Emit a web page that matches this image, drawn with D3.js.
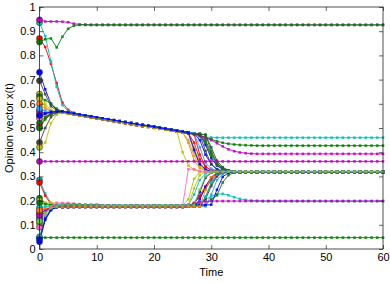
<!DOCTYPE html>
<html>
<head>
<meta charset="utf-8">
<script src="https://cdn.jsdelivr.net/npm/d3@7"></script>
<style>
  body { margin: 0; background: #fff; }
  text { font-family: "Liberation Sans", Arial, Helvetica, sans-serif; }
</style>
</head>
<body>
<svg id="chart"></svg>
<script>
// ---- data ----
var nSteps = 60;
var xTicks = [0, 10, 20, 30, 40, 50, 60];
var yTicks = [0, 0.1, 0.2, 0.3, 0.4, 0.5, 0.6, 0.7, 0.8, 0.9, 1];

// shared cluster trajectories, first value is at t = 4
var upperHi = [0.568, 0.564, 0.560, 0.556, 0.552, 0.548, 0.544, 0.540, 0.536, 0.532,
  0.528, 0.524, 0.520, 0.516, 0.512, 0.509, 0.505, 0.501, 0.497, 0.493,
  0.489, 0.485, 0.482, 0.478, 0.475, 0.472, 0.469, 0.466, 0.463];
var upperLo = [0.564, 0.560, 0.556, 0.552, 0.548, 0.544, 0.540, 0.536, 0.532, 0.528,
  0.524, 0.520, 0.516, 0.512, 0.508, 0.505, 0.501, 0.497, 0.493, 0.489,
  0.485, 0.481, 0.478, 0.474, 0.471, 0.468, 0.465, 0.462, 0.459];
var lowerHi = [0.183, 0.183, 0.182, 0.182, 0.181, 0.181, 0.181, 0.180, 0.180, 0.180,
  0.180, 0.180, 0.180, 0.180, 0.180, 0.180, 0.180, 0.180, 0.180, 0.180,
  0.180, 0.180, 0.181, 0.181, 0.182, 0.182, 0.183, 0.183, 0.184, 0.184, 0.185];
var lowerLo = [0.173, 0.173, 0.174, 0.174, 0.174, 0.174, 0.174, 0.174, 0.174, 0.174,
  0.174, 0.174, 0.174, 0.174, 0.174, 0.174, 0.174, 0.174, 0.174, 0.174,
  0.174, 0.174, 0.175, 0.175, 0.176, 0.176, 0.177, 0.177, 0.178, 0.178, 0.179];

// one entry per agent
var agentColors = [
  "#ff0000", "#00bfbf", "#0000ff", "#404040", "#bfbf00", "#008000", "#bfbf00", "#ff7f00",
  "#0000ff", "#bf00bf", "#404040", "#ff66cc", "#008000", "#ff0000", "#008000", "#3399ff",
  "#404040", "#bfbf00", "#0000ff",
  "#bf00bf", "#008000", "#bf00bf", "#008000",
  "#00bfbf", "#ff0000", "#008000", "#bfbf00", "#008000", "#00bfbf", "#ff0000", "#404040",
  "#0000ff", "#3399ff", "#bfbf00", "#ff66cc", "#bf00bf", "#00bfbf", "#0000ff", "#0000ff",
  "#ff7f00", "#66cc33"
];
var agentHeads = [
  [0.870, 0.835, 0.765, 0.685, 0.605, 0.575, 0.563],
  [0.935, 0.880, 0.775, 0.670, 0.595, 0.570, 0.560],
  [0.730, 0.660, 0.600, 0.575, 0.568],
  [0.695, 0.640, 0.590, 0.572, 0.567],
  [0.640, 0.600, 0.575, 0.567, 0.565],
  [0.630, 0.615, 0.600, 0.580, 0.568],
  [0.620, 0.590, 0.570, 0.566, 0.565],
  [0.600, 0.580, 0.570, 0.567, 0.566],
  [0.570, 0.560, 0.565, 0.568, 0.568],
  [0.560, 0.545, 0.555, 0.565, 0.567],
  [0.550, 0.560, 0.565, 0.567, 0.567],
  [0.540, 0.550, 0.560, 0.565, 0.566],
  [0.520, 0.545, 0.560, 0.566, 0.566],
  [0.505, 0.540, 0.558, 0.565, 0.566],
  [0.500, 0.535, 0.556, 0.564, 0.566],
  [0.580, 0.570, 0.568, 0.567, 0.566],
  [0.440, 0.500, 0.545, 0.560, 0.565],
  [0.420, 0.440, 0.520, 0.555, 0.564],
  [0.552, 0.560, 0.566, 0.568, 0.568],
  [0.947, 0.940, 0.940, 0.940, 0.939, 0.937, 0.931, 0.928, 0.927, 0.926],
  [0.855, 0.867, 0.870, 0.833, 0.877, 0.910, 0.923, 0.926],
  [0.362],
  [0.047],
  [0.285, 0.230, 0.190, 0.183, 0.182],
  [0.275, 0.220, 0.185, 0.176, 0.173],
  [0.210, 0.190, 0.182, 0.180, 0.180],
  [0.200, 0.190, 0.190, 0.190, 0.189, 0.186, 0.182],
  [0.190, 0.185, 0.180, 0.177, 0.174],
  [0.170, 0.175, 0.178, 0.180, 0.181],
  [0.155, 0.165, 0.170, 0.172, 0.173],
  [0.145, 0.160, 0.168, 0.172, 0.173],
  [0.130, 0.155, 0.170, 0.178, 0.182],
  [0.120, 0.150, 0.165, 0.171, 0.173],
  [0.105, 0.145, 0.168, 0.178, 0.182],
  [0.090, 0.140, 0.175, 0.190, 0.190, 0.190, 0.188, 0.184],
  [0.140, 0.160, 0.172, 0.178, 0.181],
  [0.050, 0.130, 0.165, 0.176, 0.181],
  [0.040, 0.125, 0.163, 0.172, 0.173],
  [0.030, 0.120, 0.160, 0.175, 0.181],
  [0.160, 0.168, 0.172, 0.173, 0.173],
  [0.115, 0.150, 0.168, 0.177, 0.182]
];
var agentPaths = [
  "upperLo", "upperLo", "upperHi", "upperHi", "upperLo", "upperHi", "upperLo", "upperLo",
  "upperHi", "upperHi", "upperHi", "upperLo", "upperHi", "upperLo", "upperHi", "upperHi",
  "upperLo", "upperLo", "upperHi",
  null, null, null, null,
  "lowerHi", "lowerLo", "lowerHi", "lowerHi", "lowerLo", "lowerHi", "lowerLo", "lowerLo",
  "lowerHi", "lowerLo", "lowerHi", "lowerHi", "lowerHi", "lowerHi", "lowerLo", "lowerHi",
  "lowerLo", "lowerHi"
];
var agentTailStart = [
  27, 28, 28, 29, 25, 28, 27, 26, 29, 28, 30, 27, 29, 28, 30, 28, 29, 26, 27,
  0, 0, 0, 0,
  28, 27, 30, 26, 29, 27, 27, 29, 28, 30, 27, 26, 27, 29, 28, 31, 29, 28
];
var agentTails = [
  [0.440, 0.370, 0.340, 0.326, 0.320, 0.318],
  [0.465, 0.462, 0.461, 0.460],
  [0.450, 0.390, 0.350, 0.330, 0.322, 0.318],
  [0.450, 0.395, 0.355, 0.334, 0.324, 0.319],
  [0.400, 0.345, 0.328, 0.321, 0.318, 0.317],
  [0.470, 0.462, 0.453, 0.445, 0.439, 0.435, 0.432, 0.430, 0.429, 0.428, 0.427],
  [0.420, 0.355, 0.330, 0.320, 0.316],
  [0.440, 0.365, 0.335, 0.322, 0.317],
  [0.430, 0.375, 0.345, 0.328, 0.321, 0.318],
  [0.468, 0.460, 0.450, 0.437, 0.424, 0.412, 0.404, 0.399, 0.396, 0.394, 0.393],
  [0.420, 0.365, 0.338, 0.325, 0.320],
  [0.400, 0.350, 0.328, 0.320, 0.318],
  [0.440, 0.385, 0.348, 0.330, 0.321, 0.318],
  [0.390, 0.340, 0.324, 0.318, 0.317],
  [0.405, 0.355, 0.333, 0.323, 0.319],
  [0.420, 0.355, 0.332, 0.323, 0.319],
  [0.405, 0.350, 0.328, 0.321, 0.318],
  [0.450, 0.385, 0.340, 0.324, 0.318],
  [0.410, 0.350, 0.328, 0.320, 0.317],
  [], [], [], [],
  [0.192, 0.205, 0.217, 0.226, 0.228, 0.222, 0.214, 0.207, 0.203, 0.200, 0.199, 0.198],
  [0.190, 0.215, 0.250, 0.285, 0.308, 0.317, 0.320],
  [0.205, 0.222, 0.275, 0.305, 0.316, 0.319],
  [0.205, 0.290, 0.318, 0.319, 0.318],
  [0.215, 0.270, 0.305, 0.316, 0.318],
  [0.225, 0.285, 0.312, 0.319, 0.321],
  [0.190, 0.220, 0.260, 0.295, 0.313, 0.319, 0.320],
  [0.205, 0.260, 0.300, 0.315, 0.318],
  [0.235, 0.295, 0.315, 0.320],
  [0.225, 0.285, 0.310, 0.318, 0.319],
  [0.250, 0.305, 0.319, 0.318],
  [0.330, 0.330, 0.322, 0.319, 0.318],
  [0.188, 0.193, 0.196, 0.198],
  [0.215, 0.275, 0.308, 0.318, 0.321],
  [0.205, 0.255, 0.295, 0.314, 0.318],
  [0.245, 0.298, 0.315, 0.319],
  [0.245, 0.297, 0.317, 0.320],
  [0.245, 0.300, 0.317, 0.319]
];

// ---- layout ----
var width = 390, height = 283;
var margin = {left: 39.5, right: 7, top: 7, bottom: 34};

var svg = d3.select("#chart")
    .attr("width", width)
    .attr("height", height);

var x = d3.scaleLinear().domain([0, nSteps]).range([margin.left, width - margin.right]);
var y = d3.scaleLinear().domain([0, 1]).range([height - margin.bottom, margin.top]);

var pathsByName = {upperHi: upperHi, upperLo: upperLo, lowerHi: lowerHi, lowerLo: lowerLo};

// stitch head, shared cluster path and tail of each agent, then hold the settled value
function agentSeries(i) {
    var head = agentHeads[i], tail = agentTails[i], start = agentTailStart[i];
    var shared = pathsByName[agentPaths[i]];
    var out = [], last = head[head.length - 1];
    for (var t = 0; t <= nSteps; t++) {
        var v;
        if (t < head.length) v = head[t];
        else if (!shared) v = last;
        else if (t < start) v = shared[t - 4];
        else if (t - start < tail.length) v = tail[t - start];
        else v = tail[tail.length - 1];
        out.push({t: t, v: v});
        last = v;
    }
    return out;
}

var series = agentColors.map(function(c, i) { return {color: c, values: agentSeries(i)}; });

var line = d3.line()
    .x(d => x(d.t))
    .y(d => y(d.v));

var plot = svg.append("g");

var groups = plot.selectAll(".agent")
    .data(series)
    .enter()
    .append("g")
    .classed("agent", true);

groups.append("path")
    .attr("d", d => line(d.values))
    .attr("fill", "none")
    .attr("stroke", d => d.color)
    .attr("stroke-width", 0.9);

groups.selectAll("rect")
    .data(d => d.values.slice(1).map(p => ({t: p.t, v: p.v, color: d.color})))
    .enter()
    .append("rect")
    .attr("x", d => x(d.t) - 1.3)
    .attr("y", d => y(d.v) - 1.3)
    .attr("width", 2.6)
    .attr("height", 2.6)
    .attr("fill", d => d.color)
    .attr("opacity", 0.85);

// starting opinions drawn as bigger dots
plot.selectAll(".start")
    .data(series)
    .enter()
    .append("circle")
    .classed("start", true)
    .attr("cx", d => x(0))
    .attr("cy", d => y(d.values[0].v))
    .attr("r", 3)
    .attr("fill", d => d.color)
    .attr("stroke", "#333")
    .attr("stroke-width", 0.6);

// ---- axes, matlab style box with inward ticks ----
var axisColor = "#222";

svg.append("g")
    .attr("transform", "translate(0," + y(0) + ")")
    .call(d3.axisBottom(x).tickValues(xTicks).tickSize(-4).tickPadding(4).tickFormat(d3.format("d")))
    .call(g => g.select(".domain").remove());

svg.append("g")
    .attr("transform", "translate(0," + y(1) + ")")
    .call(d3.axisTop(x).tickValues(xTicks).tickSize(-4).tickFormat(""))
    .call(g => g.select(".domain").remove());

svg.append("g")
    .attr("transform", "translate(" + x(0) + ",0)")
    .call(d3.axisLeft(y).tickValues(yTicks).tickSize(-4).tickPadding(4).tickFormat(d3.format("~g")))
    .call(g => g.select(".domain").remove());

svg.append("g")
    .attr("transform", "translate(" + x(nSteps) + ",0)")
    .call(d3.axisRight(y).tickValues(yTicks).tickSize(-4).tickFormat(""))
    .call(g => g.select(".domain").remove());

svg.selectAll(".tick line").attr("stroke", axisColor).attr("stroke-width", 0.7);
svg.selectAll(".tick text")
    .attr("font-size", "11px")
    .attr("fill", "#000")
    .style("font-family", "'Liberation Sans', Arial, sans-serif");

svg.append("rect")   // plot box
    .attr("x", x(0))
    .attr("y", y(1))
    .attr("width", x(nSteps) - x(0))
    .attr("height", y(0) - y(1))
    .attr("fill", "none")
    .attr("stroke", axisColor)
    .attr("stroke-width", 0.8);

svg.append("text")
    .attr("x", (x(0) + x(nSteps)) / 2)
    .attr("y", 276)
    .attr("text-anchor", "middle")
    .attr("font-size", "11px")
    .text("Time");

svg.append("text")
    .attr("transform", "translate(13," + (y(0) + y(1)) / 2 + ") rotate(-90)")
    .attr("text-anchor", "middle")
    .attr("font-size", "11px")
    .text("Opinion vector x(t)");
</script>
</body>
</html>
